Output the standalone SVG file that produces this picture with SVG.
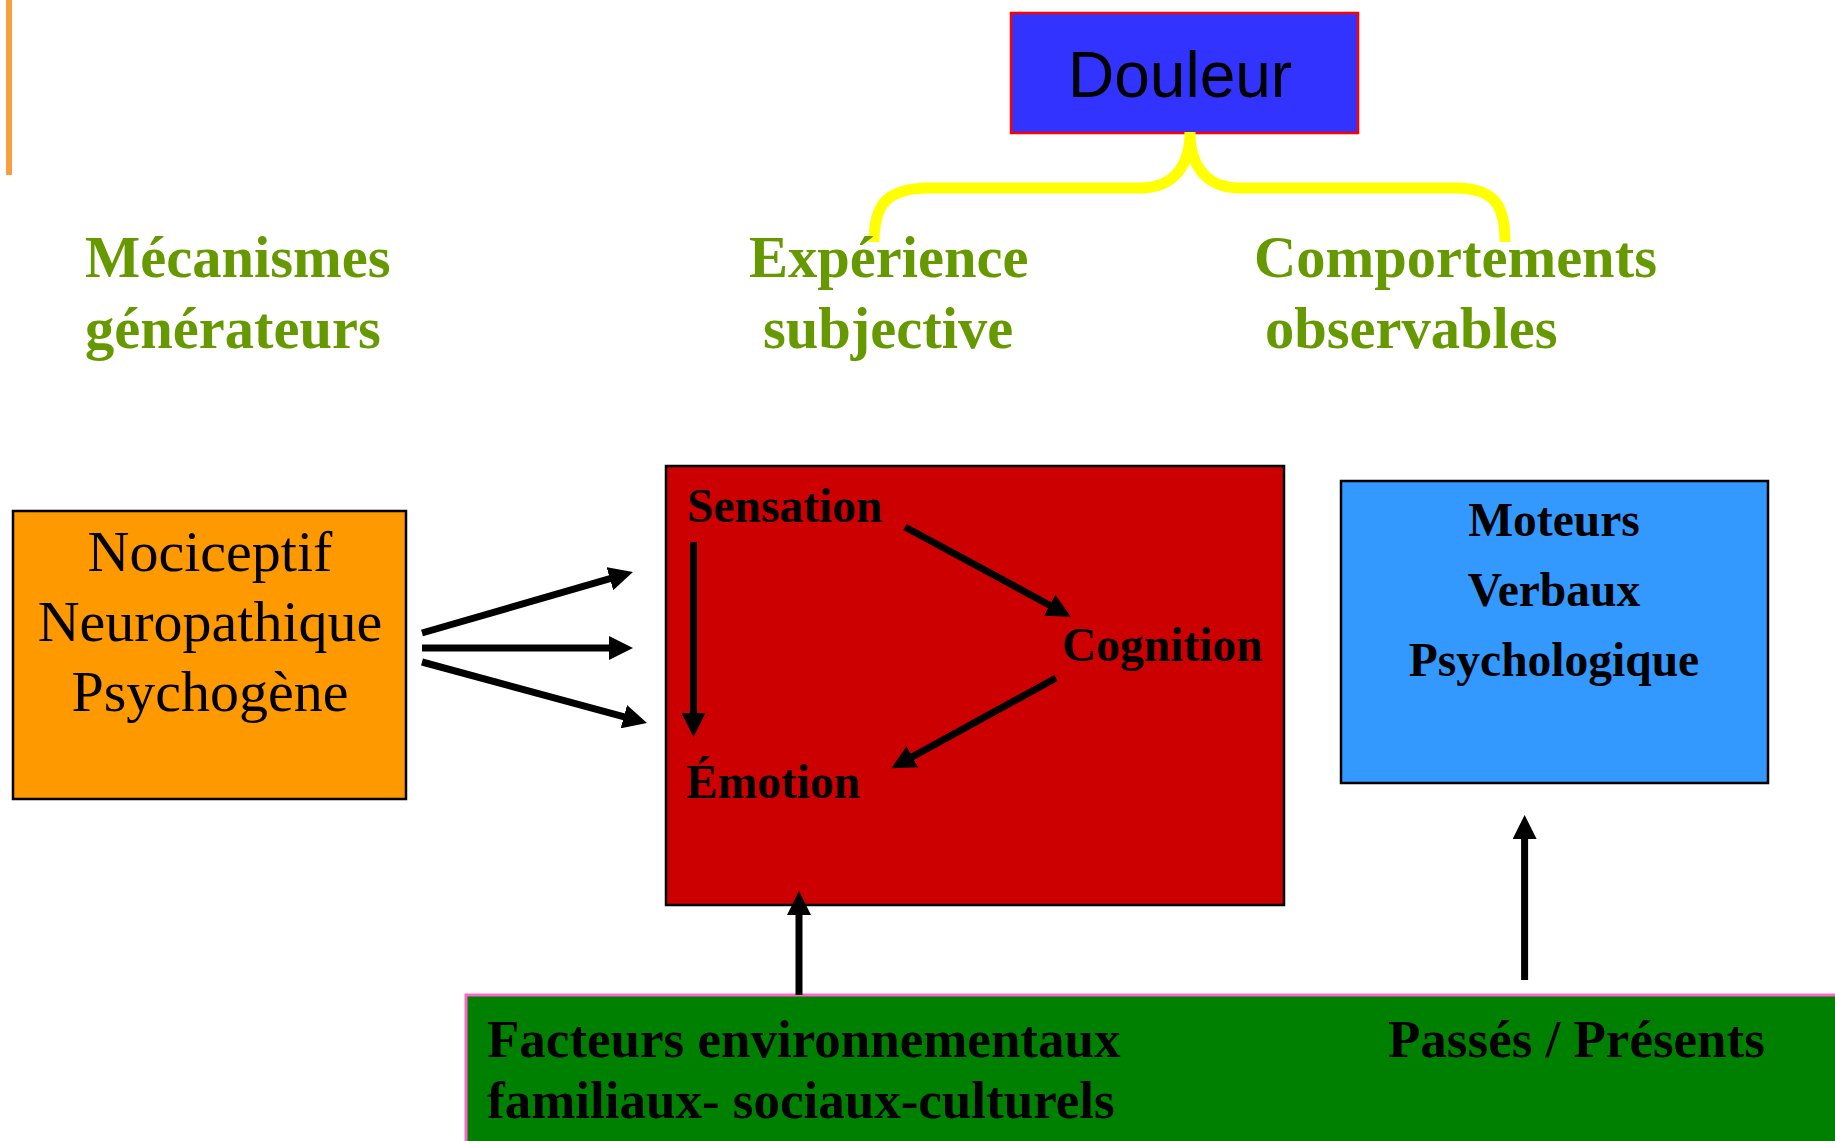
<svg xmlns="http://www.w3.org/2000/svg" width="1835" height="1141" viewBox="0 0 1835 1141">
<style>
.h{font-family:"Liberation Serif","Times New Roman",serif;font-weight:bold;font-size:58.5px;fill:#669900}
.r{font-family:"Liberation Serif","Times New Roman",serif;font-size:58px;fill:#000}
.b{font-family:"Liberation Serif","Times New Roman",serif;font-weight:bold;font-size:47.5px;fill:#000}
.g{font-family:"Liberation Serif","Times New Roman",serif;font-weight:bold;font-size:53px;fill:#000}
.box{stroke:#000;stroke-width:2.5}
.arr{stroke:#000;stroke-width:7;fill:none;marker-end:url(#ah)}
</style>
<defs>
<marker id="ah" markerUnits="userSpaceOnUse" markerWidth="24" markerHeight="24" refX="10" refY="12" orient="auto" viewBox="0 0 24 24">
<path d="M0,0 L24,12 L0,24 z" fill="#000"/>
</marker>
</defs>
<rect x="6" y="0" width="6" height="175" fill="#F7A040"/>
<g id="douleur">
<rect x="1011" y="13" width="347" height="120" fill="#3333FF" stroke="#FF0000" stroke-width="2.5"/>
<text x="1068" y="97" font-family="'Liberation Sans',Arial,sans-serif" font-size="64" fill="#000">Douleur</text>
</g>
<g id="brace">
<path d="M874 242 C874 205 886 188 930 188 L1140 188 C1170 188 1190 170 1190 132 C1190 170 1210 188 1240 188 L1455 188 C1497 188 1505 208 1505 242" fill="none" stroke="#FFFF00" stroke-width="11"/>
</g>
<g id="headings">
<text class="h" x="85" y="277">Mécanismes</text>
<text class="h" x="85" y="348">générateurs</text>
<text class="h" x="749" y="277">Expérience</text>
<text class="h" x="763" y="348">subjective</text>
<text class="h" x="1254" y="277">Comportements</text>
<text class="h" x="1265" y="348">observables</text>
</g>
<g id="mecanismes">
<rect class="box" x="13" y="511" width="393" height="288" fill="#FF9900"/>
<text class="r" x="210" y="571" text-anchor="middle">Nociceptif</text>
<text class="r" x="210" y="641" text-anchor="middle">Neuropathique</text>
<text class="r" x="210" y="711" text-anchor="middle">Psychogène</text>
</g>
<g id="experience">
<rect class="box" x="666" y="466" width="618" height="439" fill="#CC0000"/>
<text class="b" x="687" y="522">Sensation</text>
<text class="b" x="1062" y="661">Cognition</text>
<text class="b" x="686" y="798">Émotion</text>
</g>
<g id="comportements">
<rect class="box" x="1341" y="481" width="427" height="302" fill="#3399FF"/>
<text class="b" x="1554" y="536" text-anchor="middle">Moteurs</text>
<text class="b" x="1554" y="606" text-anchor="middle">Verbaux</text>
<text class="b" x="1554" y="676" text-anchor="middle">Psychologique</text>
</g>
<g id="facteurs">
<rect x="466" y="995" width="1380" height="160" fill="#008000" stroke="#FF66CC" stroke-width="3"/>
<text class="g" x="487" y="1057">Facteurs environnementaux</text>
<text class="g" x="487" y="1118">familiaux- sociaux-culturels</text>
<text class="g" x="1388" y="1057">Passés / Présents</text>
</g>
<g id="connectors">
<line class="arr" x1="422" y1="633" x2="619.5" y2="575.9"/>
<line class="arr" x1="422" y1="648" x2="619" y2="648"/>
<line class="arr" x1="422" y1="662" x2="633.5" y2="719.3"/>
<line class="arr" x1="693.5" y1="542" x2="693.5" y2="723"/>
<line class="arr" x1="905" y1="527" x2="1058.5" y2="610"/>
<line class="arr" x1="1056" y1="678" x2="903.6" y2="761.6"/>
<line class="arr" x1="799" y1="995" x2="799" y2="905"/>
<line class="arr" x1="1524.6" y1="980" x2="1524.6" y2="829"/>
</g>
</svg>
